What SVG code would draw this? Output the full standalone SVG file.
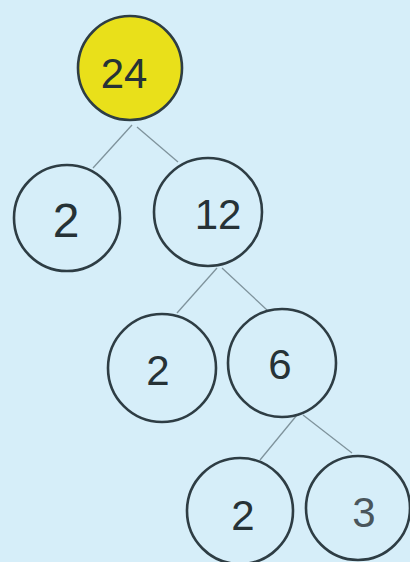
<svg xmlns="http://www.w3.org/2000/svg" width="410" height="562" viewBox="0 0 410 562">
<style>
.bg{fill:#d6eef9}
.n{fill:#d6eef9;stroke:#2e3d44;stroke-width:2.6}
.root{fill:#e9e01a}
.e{stroke:#7f939c;stroke-width:1.3;fill:none}
.t{font-family:"Liberation Sans",Arial,sans-serif;font-size:42px;fill:#263236;text-anchor:middle}
</style>
<rect class="bg" x="0" y="0" width="410" height="562"/>
<g id="connectors">
<line class="e" x1="132" y1="125" x2="93" y2="168"/>
<line class="e" x1="137" y1="127" x2="178" y2="162"/>
<line class="e" x1="217" y1="268" x2="177" y2="313"/>
<line class="e" x1="222" y1="268" x2="267" y2="310"/>
<line class="e" x1="297" y1="415" x2="260" y2="460"/>
<line class="e" x1="303" y1="415" x2="352" y2="453"/>
</g>
<g id="n24"><circle class="n root" cx="130" cy="68" r="52"/><text class="t" x="124" y="88">24</text></g>
<g id="n2a"><circle class="n" cx="67" cy="218" r="53"/><text class="t" x="66" y="237" style="font-size:48px">2</text></g>
<g id="n12"><circle class="n" cx="208" cy="212" r="54"/><text class="t" x="218" y="229">12</text></g>
<g id="n2b"><circle class="n" cx="162" cy="368" r="54"/><text class="t" x="158" y="385">2</text></g>
<g id="n6"><circle class="n" cx="282" cy="363" r="54"/><text class="t" x="280" y="379">6</text></g>
<g id="n2c"><circle class="n" cx="240" cy="511" r="53"/><text class="t" x="243" y="530">2</text></g>
<g id="n3"><circle class="n" cx="358" cy="508" r="52"/><text class="t" x="364" y="527" style="fill:#4a565c">3</text></g>
</svg>
